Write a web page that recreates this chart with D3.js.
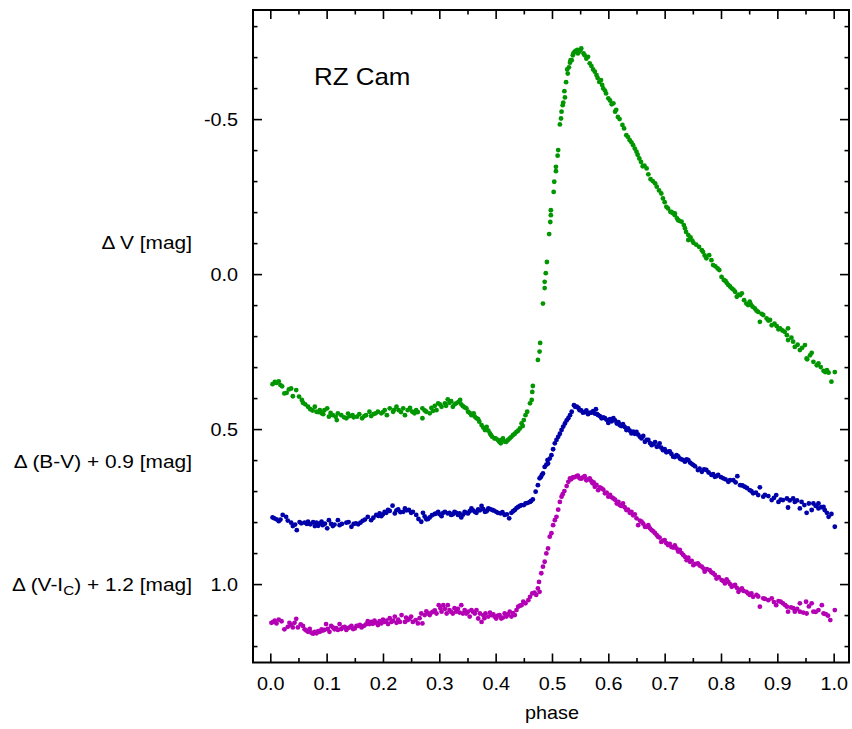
<!DOCTYPE html>
<html><head><meta charset="utf-8">
<script src="https://cdn.jsdelivr.net/npm/d3@7"></script>
<style>
html,body{margin:0;padding:0;background:#fff;}
text{font-family:"Liberation Sans",Arial,Helvetica,sans-serif;fill:#000;}
</style></head>
<body><svg id="c" width="852" height="729"></svg>
<script>
// ---- data: [phase, value] ----
const vData = [
[0.004,0.355],[0.011,0.351],[0.015,0.346],[0.018,0.358],[0.025,0.385],[0.029,0.383],[0.037,0.369],[0.040,0.394],[0.046,0.374],[0.056,0.406],[0.058,0.415],[0.067,0.428],[0.071,0.436],[0.079,0.428],[0.082,0.444],[0.088,0.439],[0.091,0.449],[0.096,0.439],[0.101,0.433],[0.104,0.460],[0.111,0.455],[0.120,0.449],[0.118,0.471],[0.126,0.455],[0.135,0.465],[0.141,0.458],[0.148,0.462],[0.154,0.460],[0.163,0.465],[0.167,0.458],[0.176,0.444],[0.179,0.458],[0.187,0.449],[0.191,0.444],[0.197,0.449],[0.203,0.439],[0.207,0.455],[0.212,0.433],[0.218,0.444],[0.224,0.428],[0.228,0.439],[0.236,0.433],[0.239,0.455],[0.244,0.439],[0.252,0.444],[0.256,0.449],[0.259,0.439],[0.270,0.433],[0.270,0.465],[0.277,0.444],[0.283,0.449],[0.289,0.441],[0.295,0.439],[0.298,0.417],[0.304,0.428],[0.310,0.417],[0.315,0.404],[0.318,0.415],[0.324,0.428],[0.330,0.417],[0.337,0.406],[0.342,0.426],[0.348,0.433],[0.351,0.444],[0.357,0.455],[0.361,0.449],[0.366,0.465],[0.371,0.476],[0.375,0.487],[0.381,0.503],[0.384,0.493],[0.390,0.514],[0.394,0.525],[0.398,0.530],[0.404,0.535],[0.409,0.546],[0.413,0.530],[0.419,0.541],[0.425,0.530],[0.431,0.519],[0.437,0.509],[0.443,0.498],[0.446,0.482],[0.450,0.471],[0.453,0.455],[0.456,0.444],[0.461,0.417],[0.464,0.406],[0.465,0.380],[0.466,0.361],[0.475,0.277],[0.478,0.250],[0.479,0.222],
[0.484,0.095],[0.487,0.045],[0.487,0.025],[0.489,-0.003],[0.491,-0.039],[0.495,-0.129],[0.497,-0.168],[0.498,-0.190],[0.498,-0.206],[0.503,-0.265],[0.504,-0.298],[0.507,-0.332],[0.507,-0.346],[0.510,-0.382],[0.511,-0.400],[0.514,-0.483],[0.516,-0.502],[0.517,-0.524],[0.519,-0.545],[0.520,-0.553],[0.525,-0.619],[0.528,-0.647],[0.530,-0.667],[0.532,-0.682],[0.535,-0.690],[0.537,-0.706],[0.540,-0.717],[0.545,-0.723],[0.548,-0.717],[0.552,-0.728],[0.558,-0.706],[0.564,-0.701],[0.567,-0.680],[0.570,-0.671],[0.576,-0.653],[0.579,-0.642],[0.584,-0.620],[0.587,-0.626],[0.591,-0.599],[0.596,-0.583],[0.600,-0.567],[0.609,-0.551],[0.612,-0.524],[0.617,-0.507],[0.625,-0.481],[0.632,-0.448],[0.638,-0.432],[0.644,-0.416],[0.650,-0.395],[0.655,-0.373],[0.661,-0.348],[0.668,-0.341],[0.675,-0.306],[0.683,-0.293],[0.686,-0.282],[0.694,-0.260],[0.697,-0.244],[0.703,-0.217],[0.710,-0.201],[0.718,-0.196],[0.724,-0.174],
[0.712,-0.201],[0.718,-0.190],[0.722,-0.180],[0.730,-0.169],[0.734,-0.158],[0.738,-0.136],[0.742,-0.126],[0.746,-0.118],[0.742,-0.110],[0.751,-0.101],[0.761,-0.088],[0.766,-0.077],[0.768,-0.072],[0.774,-0.051],[0.779,-0.061],[0.783,-0.045],[0.786,-0.029],[0.797,-0.013],[0.801,0.009],[0.805,0.019],[0.810,0.028],[0.813,0.035],[0.819,0.046],[0.825,0.057],[0.828,0.073],[0.834,0.068],[0.837,0.062],[0.841,0.084],[0.845,0.095],[0.851,0.089],[0.856,0.105],[0.860,0.111],[0.866,0.122],[0.869,0.154],[0.875,0.132],[0.881,0.143],[0.887,0.148],[0.890,0.165],[0.899,0.168],[0.905,0.175],[0.913,0.186],[0.919,0.175],[0.917,0.197],[0.919,0.213],[0.928,0.218],[0.931,0.235],[0.940,0.245],[0.949,0.229],[0.952,0.272],[0.953,0.275],[0.961,0.254],[0.964,0.283],[0.970,0.294],[0.973,0.288],[0.982,0.312],[0.985,0.316],[0.991,0.318],[0.996,0.347],[1.002,0.316],
[0.556,-0.712],[0.561,-0.695],[0.573,-0.660],[0.581,-0.633],[0.589,-0.610],[0.594,-0.592],[0.603,-0.560],[0.606,-0.548],[0.614,-0.530],[0.620,-0.500],[0.628,-0.470],[0.635,-0.442],[0.641,-0.425],[0.647,-0.405],[0.652,-0.385],[0.658,-0.362],[0.664,-0.350],[0.671,-0.322],[0.679,-0.300],[0.690,-0.270],[0.700,-0.232],[0.706,-0.212],[0.714,-0.197],[0.726,-0.172],
[0.736,-0.148],[0.749,-0.108],[0.756,-0.095],[0.771,-0.060],[0.790,-0.025],[0.794,-0.018],[0.808,0.022],[0.816,0.040],[0.822,0.050],[0.831,0.066],[0.848,0.100],[0.853,0.098],[0.863,0.118],[0.872,0.128],[0.884,0.150],[0.895,0.160],[0.902,0.178],[0.909,0.182],[0.925,0.205],[0.936,0.228],[0.944,0.238],[0.958,0.262],[0.977,0.300],[0.988,0.310],
[0.538,-0.712],[0.542,-0.720],[0.550,-0.722],[0.546,-0.712],[0.533,-0.690],[0.527,-0.660],[0.522,-0.590],[0.523,-0.570],
[0.008,0.348],[0.021,0.362],[0.033,0.372],[0.051,0.395],[0.062,0.420],[0.075,0.440],[0.085,0.445],[0.094,0.452],[0.107,0.448],[0.116,0.460],[0.131,0.462],[0.138,0.450],[0.146,0.455],[0.158,0.452],[0.170,0.455],[0.183,0.452],[0.200,0.445],[0.220,0.438],[0.232,0.445],[0.248,0.432],[0.262,0.445],[0.274,0.440],[0.286,0.432],[0.292,0.425],[0.301,0.420],[0.312,0.425],[0.321,0.410],[0.327,0.420],[0.334,0.412],[0.339,0.420],[0.345,0.430],[0.354,0.448],[0.363,0.460],[0.369,0.468],[0.378,0.495],[0.387,0.505],[0.392,0.520],[0.400,0.530],[0.406,0.540],[0.411,0.535],[0.416,0.540],[0.422,0.535],[0.428,0.525],[0.434,0.515],[0.440,0.505],[0.448,0.490]
];
const bvData = [
[0.004,0.785],[0.011,0.791],[0.015,0.797],[0.022,0.777],[0.028,0.783],[0.037,0.802],[0.040,0.813],[0.047,0.826],[0.055,0.804],[0.061,0.802],[0.067,0.799],[0.071,0.807],[0.079,0.813],[0.082,0.802],[0.088,0.804],[0.091,0.799],[0.093,0.810],[0.101,0.820],[0.104,0.794],[0.108,0.806],[0.111,0.813],[0.120,0.794],[0.123,0.810],[0.135,0.802],[0.144,0.815],[0.152,0.804],[0.156,0.807],[0.164,0.796],[0.173,0.783],[0.179,0.794],[0.188,0.777],[0.194,0.772],[0.197,0.781],[0.203,0.767],[0.209,0.761],[0.217,0.747],[0.221,0.772],[0.227,0.759],[0.236,0.767],[0.239,0.756],[0.246,0.761],[0.253,0.767],[0.259,0.777],[0.268,0.799],[0.271,0.770],[0.277,0.791],[0.283,0.785],[0.292,0.774],[0.298,0.767],[0.304,0.781],[0.310,0.767],[0.315,0.772],[0.321,0.777],[0.327,0.767],[0.333,0.777],[0.339,0.785],[0.345,0.767],[0.351,0.772],[0.357,0.756],[0.363,0.767],[0.369,0.759],[0.375,0.748],[0.381,0.767],[0.387,0.756],[0.394,0.761],[0.401,0.767],[0.409,0.772],[0.416,0.777],[0.424,0.788],[0.428,0.770],[0.434,0.761],[0.440,0.751],[0.446,0.745],[0.453,0.740],[0.461,0.735],[0.466,0.727],[0.471,0.702],[0.475,0.681],[0.478,0.659],[0.484,0.643],[0.487,0.622],[0.492,0.600],
[0.493,0.611],[0.499,0.584],[0.505,0.546],[0.511,0.525],[0.517,0.503],[0.523,0.482],[0.529,0.465],[0.535,0.444],[0.539,0.423],[0.544,0.428],[0.549,0.439],[0.555,0.447],[0.564,0.452],[0.570,0.447],[0.578,0.436],[0.582,0.455],[0.588,0.465],[0.594,0.465],[0.600,0.480],[0.609,0.465],[0.615,0.482],[0.620,0.487],[0.629,0.493],[0.632,0.503],[0.641,0.514],[0.650,0.509],[0.656,0.525],[0.665,0.541],[0.671,0.535],[0.677,0.552],[0.686,0.557],[0.691,0.546],[0.697,0.568],[0.706,0.573],[0.715,0.589],[0.721,0.584],[0.727,0.595],[0.736,0.605],[0.742,0.600],[0.751,0.616],[0.759,0.632],[0.766,0.638],[0.774,0.632],[0.783,0.648],[0.789,0.654],[0.795,0.648],[0.804,0.659],[0.813,0.670],[0.822,0.665],[0.829,0.652],[0.834,0.681],[0.842,0.686],[0.851,0.697],[0.857,0.707],[0.866,0.713],[0.869,0.688],[0.875,0.718],[0.884,0.716],[0.890,0.729],[0.898,0.713],[0.902,0.735],[0.910,0.729],[0.917,0.724],[0.919,0.753],[0.928,0.724],[0.931,0.735],[0.940,0.756],[0.943,0.735],[0.952,0.770],[0.961,0.761],[0.964,0.740],[0.973,0.740],[0.973,0.756],[0.982,0.751],[0.984,0.761],[0.991,0.783],[0.996,0.774],[1.002,0.815],
[0.007,0.788],[0.018,0.792],[0.031,0.795],[0.044,0.808],[0.052,0.800],[0.065,0.806],[0.076,0.800],[0.085,0.812],[0.097,0.805],[0.114,0.808],[0.127,0.806],[0.139,0.800],[0.148,0.806],[0.160,0.802],[0.168,0.792],[0.183,0.786],[0.192,0.780],[0.200,0.775],[0.206,0.770],[0.212,0.764],[0.224,0.762],[0.231,0.768],[0.242,0.762],[0.250,0.770],[0.263,0.790],[0.274,0.782],[0.280,0.790],[0.287,0.778],[0.295,0.772],[0.301,0.775],[0.307,0.770],[0.318,0.770],[0.324,0.775],[0.330,0.770],[0.336,0.772],[0.342,0.776],[0.348,0.770],[0.354,0.765],[0.360,0.762],[0.366,0.770],[0.372,0.762],[0.378,0.758],[0.384,0.765],[0.390,0.758],[0.397,0.763],[0.404,0.770],[0.412,0.768],[0.420,0.775],[0.431,0.765],[0.437,0.755],[0.443,0.748],[0.450,0.745],[0.457,0.738],[0.463,0.732],
[0.480,0.655],[0.482,0.648],[0.490,0.615],[0.496,0.595],[0.502,0.565],[0.508,0.535],[0.514,0.515],[0.520,0.492],[0.526,0.472],[0.532,0.455],
[0.541,0.428],[0.547,0.432],[0.552,0.440],[0.558,0.445],[0.561,0.440],[0.567,0.448],[0.573,0.442],[0.576,0.450],[0.580,0.452],[0.585,0.458],[0.591,0.462],[0.597,0.470],[0.603,0.468],[0.606,0.475],[0.612,0.472],[0.618,0.478],[0.623,0.490],[0.626,0.484],[0.635,0.498],[0.638,0.505],[0.644,0.508],[0.647,0.515],[0.653,0.518],[0.659,0.530],[0.662,0.522],[0.668,0.535],[0.674,0.545],[0.680,0.548],[0.683,0.542],[0.689,0.555],[0.694,0.560],[0.700,0.565],[0.703,0.575],[0.709,0.572],[0.712,0.580],[0.718,0.590],[0.724,0.588],[0.730,0.598],[0.733,0.600],[0.739,0.598],[0.745,0.608],[0.748,0.612],[0.754,0.620],[0.762,0.628],[0.770,0.630],[0.778,0.640],[0.786,0.645],[0.792,0.652],[0.800,0.655],[0.808,0.662],[0.816,0.665],[0.826,0.672],[0.838,0.682],[0.846,0.690],[0.854,0.700],[0.862,0.705],[0.878,0.712],[0.894,0.722],[0.906,0.728],[0.922,0.730],[0.935,0.730],[0.948,0.745],[0.956,0.740],[0.968,0.748],[0.978,0.752],[0.988,0.770]
];
const viData = [
[0.005,1.122],[0.011,1.127],[0.025,1.146],[0.031,1.138],[0.037,1.132],[0.043,1.125],[0.049,1.140],[0.058,1.135],[0.061,1.146],[0.067,1.154],[0.073,1.157],[0.079,1.154],[0.082,1.159],[0.088,1.154],[0.091,1.146],[0.096,1.148],[0.099,1.129],[0.105,1.154],[0.108,1.135],[0.114,1.146],[0.120,1.148],[0.123,1.129],[0.129,1.140],[0.135,1.148],[0.141,1.140],[0.144,1.135],[0.150,1.143],[0.156,1.135],[0.162,1.140],[0.166,1.135],[0.176,1.129],[0.179,1.122],[0.188,1.125],[0.191,1.132],[0.197,1.127],[0.203,1.122],[0.209,1.129],[0.215,1.122],[0.224,1.125],[0.230,1.122],
[0.233,1.100],[0.239,1.122],[0.244,1.116],[0.253,1.122],[0.258,1.116],[0.262,1.127],[0.270,1.127],[0.268,1.095],[0.274,1.100],[0.280,1.095],[0.283,1.100],[0.289,1.089],[0.295,1.095],[0.299,1.068],[0.304,1.089],[0.307,1.068],[0.313,1.095],[0.315,1.068],[0.318,1.084],[0.324,1.095],[0.327,1.078],[0.330,1.089],[0.339,1.068],[0.342,1.095],[0.345,1.084],[0.351,1.089],[0.354,1.105],[0.357,1.084],[0.363,1.095],[0.366,1.084],[0.369,1.111],[0.375,1.122],[0.372,1.095],[0.378,1.100],[0.382,1.095],[0.387,1.105],[0.393,1.100],[0.398,1.105],[0.401,1.111],[0.407,1.100],[0.410,1.111],[0.416,1.095],[0.419,1.105],[0.425,1.089],[0.428,1.105],[0.434,1.100],[0.437,1.084],[0.440,1.073],[0.446,1.068],[0.449,1.057],[0.453,1.062],[0.458,1.052],[0.461,1.041],[0.465,1.030],[0.472,1.035],[0.475,1.014],[0.477,0.993],[0.478,1.025],[0.484,0.944],[0.487,0.928],
[0.490,0.901],[0.496,0.847],[0.499,0.836],[0.502,0.810],[0.505,0.794],[0.508,0.783],[0.514,0.735],[0.517,0.718],[0.519,0.710],[0.526,0.684],[0.529,0.670],[0.532,0.659],[0.537,0.656],[0.544,0.652],[0.549,0.659],[0.555,0.656],[0.561,0.665],[0.567,0.659],[0.572,0.675],[0.576,0.686],[0.582,0.697],[0.588,0.691],[0.594,0.707],[0.600,0.718],[0.609,0.724],[0.615,0.740],[0.620,0.745],[0.626,0.740],[0.632,0.761],[0.641,0.767],[0.650,0.788],[0.653,0.810],[0.659,0.799],[0.665,0.815],[0.671,0.810],[0.677,0.826],[0.683,0.836],[0.688,0.847],[0.694,0.864],[0.700,0.858],[0.706,0.874],[0.712,0.880],[0.721,0.885],[0.727,0.890],[0.733,0.906],[0.739,0.923],[0.745,0.928],[0.751,0.939],[0.759,0.933],[0.766,0.944],[0.771,0.960],[0.780,0.955],[0.786,0.965],[0.792,0.982],[0.801,0.987],[0.807,0.998],[0.813,0.993],[0.819,1.009],[0.825,1.003],[0.831,1.025],[0.837,1.014],[0.845,1.025],[0.851,1.035],[0.857,1.041],[0.863,1.035],[0.869,1.073],[0.875,1.046],[0.884,1.052],[0.890,1.046],[0.898,1.068],[0.906,1.057],[0.910,1.062],[0.917,1.073],[0.919,1.089],[0.928,1.078],[0.931,1.089],[0.940,1.089],[0.940,1.062],[0.951,1.057],[0.952,1.095],[0.961,1.062],[0.964,1.089],[0.973,1.084],[0.979,1.068],[0.986,1.097],[0.994,1.116],[1.002,1.084],
[0.002,1.125],[0.008,1.118],[0.015,1.115],[0.020,1.120],[0.034,1.125],[0.040,1.140],[0.046,1.112],[0.054,1.130],[0.064,1.150],[0.070,1.145],[0.076,1.160],[0.085,1.152],[0.093,1.150],[0.102,1.145],[0.111,1.140],[0.117,1.142],[0.126,1.145],[0.132,1.138],[0.138,1.142],[0.147,1.145],[0.153,1.135],[0.159,1.132],[0.170,1.130],[0.173,1.120],[0.182,1.128],[0.185,1.118],[0.194,1.120],[0.200,1.115],[0.206,1.118],[0.212,1.110],[0.218,1.118],[0.221,1.105],[0.227,1.115],[0.241,1.108],[0.247,1.112],[0.250,1.105],[0.265,1.110],
[0.277,1.088],[0.286,1.092],[0.292,1.085],[0.302,1.078],[0.310,1.080],[0.321,1.090],[0.333,1.080],[0.336,1.092],[0.348,1.095],[0.360,1.090],[0.380,1.110],[0.390,1.092],[0.396,1.098],[0.404,1.102],[0.413,1.108],[0.422,1.098],[0.431,1.094],[0.443,1.070],
[0.469,1.028],[0.481,0.965],[0.493,0.885],[0.511,0.760],[0.522,0.700],[0.534,0.662],
[0.540,0.655],[0.546,0.650],[0.552,0.660],[0.558,0.652],[0.564,0.662],[0.570,0.668],[0.574,0.672],[0.579,0.680],[0.585,0.688],[0.591,0.695],[0.597,0.705],[0.603,0.712],[0.606,0.720],[0.612,0.728],[0.618,0.735],[0.623,0.748],[0.629,0.752],[0.635,0.760],[0.638,0.770],[0.644,0.778],[0.647,0.775],[0.656,0.795],[0.662,0.805],[0.668,0.815],[0.674,0.820],[0.680,0.830],[0.686,0.842],[0.691,0.850],[0.697,0.860],[0.703,0.868],[0.709,0.870],[0.715,0.882],[0.718,0.875],[0.724,0.895],[0.730,0.900],[0.736,0.912],[0.742,0.915],[0.748,0.925],[0.754,0.935],[0.762,0.940],[0.769,0.950],[0.775,0.952],[0.783,0.962],[0.789,0.970],[0.796,0.978],[0.804,0.990],[0.810,0.985],[0.816,1.000],[0.822,1.005],[0.828,1.012],[0.834,1.018],[0.840,1.022],[0.848,1.030],[0.854,1.030],[0.866,1.040],[0.878,1.048],[0.894,1.058],[0.902,1.055],[0.914,1.068],[0.924,1.075],[0.935,1.080],[0.946,1.092],[0.956,1.072],[0.968,1.090],[0.982,1.095],[0.990,1.102]
];
const xMajorTicks = [0.0,0.1,0.2,0.3,0.4,0.5,0.6,0.7,0.8,0.9,1.0];
const xMinorTicks = [0.05,0.15,0.25,0.35,0.45,0.55,0.65,0.75,0.85,0.95];
const yMajorTicks = [-0.5,0.0,0.5,1.0];
const yMinorTicks = [-0.8,-0.7,-0.6,-0.4,-0.3,-0.2,-0.1,0.1,0.2,0.3,0.4,0.6,0.7,0.8,0.9,1.1,1.2];
const seriesColors = ["#009600","#0000aa","#b400b4"];
const title = "RZ Cam";
const xTitle = "phase";

// ---- layout ----
const L = 253, R = 849, T = 10, B = 662.5;
const SX = 1.1; // horizontal stretch of glyphs in reference
const fmt = d => d.toFixed(1); // plain hyphen-minus as in reference
const svg = d3.select("#c");
const x = d3.scaleLinear().domain([-0.0307, 1.0272]).range([L, R]);
const y = d3.scaleLinear().domain([-0.852, 1.253]).range([T, B]);

function styleAxis(g){
  g.select(".domain").remove();
  g.selectAll(".tick line").attr("stroke","#000").attr("stroke-width",1.6);
}
// bottom
svg.append("g").attr("transform",`translate(0,${B})`)
  .call(d3.axisBottom(x).tickValues(xMajorTicks).tickSize(-9).tickPadding(15).tickFormat(fmt))
  .call(styleAxis)
  .call(g=>g.selectAll("text").attr("font-size",18).attr("font-family","Liberation Sans, Arial, sans-serif").attr("fill","#000").attr("transform",`scale(${SX},1)`));
svg.append("g").attr("transform",`translate(0,${B})`)
  .call(d3.axisBottom(x).tickValues(xMinorTicks).tickSize(-4.5).tickFormat(""))
  .call(styleAxis);
// top
svg.append("g").attr("transform",`translate(0,${T})`)
  .call(d3.axisTop(x).tickValues(xMajorTicks).tickSize(-9).tickFormat(""))
  .call(styleAxis);
svg.append("g").attr("transform",`translate(0,${T})`)
  .call(d3.axisTop(x).tickValues(xMinorTicks).tickSize(-4.5).tickFormat(""))
  .call(styleAxis);
// left
svg.append("g").attr("transform",`translate(${L},0)`)
  .call(d3.axisLeft(y).tickValues(yMajorTicks).tickSize(-9).tickPadding(15).tickFormat(fmt))
  .call(styleAxis)
  .call(g=>g.selectAll("text").attr("font-size",18).attr("font-family","Liberation Sans, Arial, sans-serif").attr("fill","#000")
     .attr("x",0).attr("dy","0.34em").attr("transform",`translate(-15,0) scale(${SX},1)`));
svg.append("g").attr("transform",`translate(${L},0)`)
  .call(d3.axisLeft(y).tickValues(yMinorTicks).tickSize(-4.5).tickFormat(""))
  .call(styleAxis);
// right
svg.append("g").attr("transform",`translate(${R},0)`)
  .call(d3.axisRight(y).tickValues(yMajorTicks).tickSize(-9).tickFormat(""))
  .call(styleAxis);
svg.append("g").attr("transform",`translate(${R},0)`)
  .call(d3.axisRight(y).tickValues(yMinorTicks).tickSize(-4.5).tickFormat(""))
  .call(styleAxis);

// frame
svg.append("rect").attr("x",L).attr("y",T).attr("width",R-L).attr("height",B-T)
  .attr("fill","none").attr("stroke","#000").attr("stroke-width",2);

// points
const plot = svg.append("g");
[vData,bvData,viData].forEach((data,i)=>{
  plot.append("g").selectAll("circle").data(data).join("circle")
    .attr("cx",d=>x(d[0])).attr("cy",d=>y(d[1])).attr("r",2.4)
    .attr("fill",seriesColors[i]);
});

// texts
function label(px,py,size,anchor,sx){
  return svg.append("text").attr("transform",`translate(${px},${py}) scale(${sx||SX},1)`)
    .attr("font-size",size).attr("text-anchor",anchor);
}
label(314,85,24,"start",1.08).text(title);
label(552,719,18,"middle").text(xTitle);
label(192,249,18.5,"end",1.13).text("\u0394 V [mag]");
label(192,468,18.5,"end",1.13).text("\u0394 (B-V) + 0.9 [mag]");
const t3 = label(192,591,18.5,"end",1.13);
t3.append("tspan").text("\u0394 (V-I");
t3.append("tspan").attr("font-size",13.5).attr("dy",4).text("C");
t3.append("tspan").attr("dy",-4).text(") + 1.2 [mag]");
</script>
</body></html>
